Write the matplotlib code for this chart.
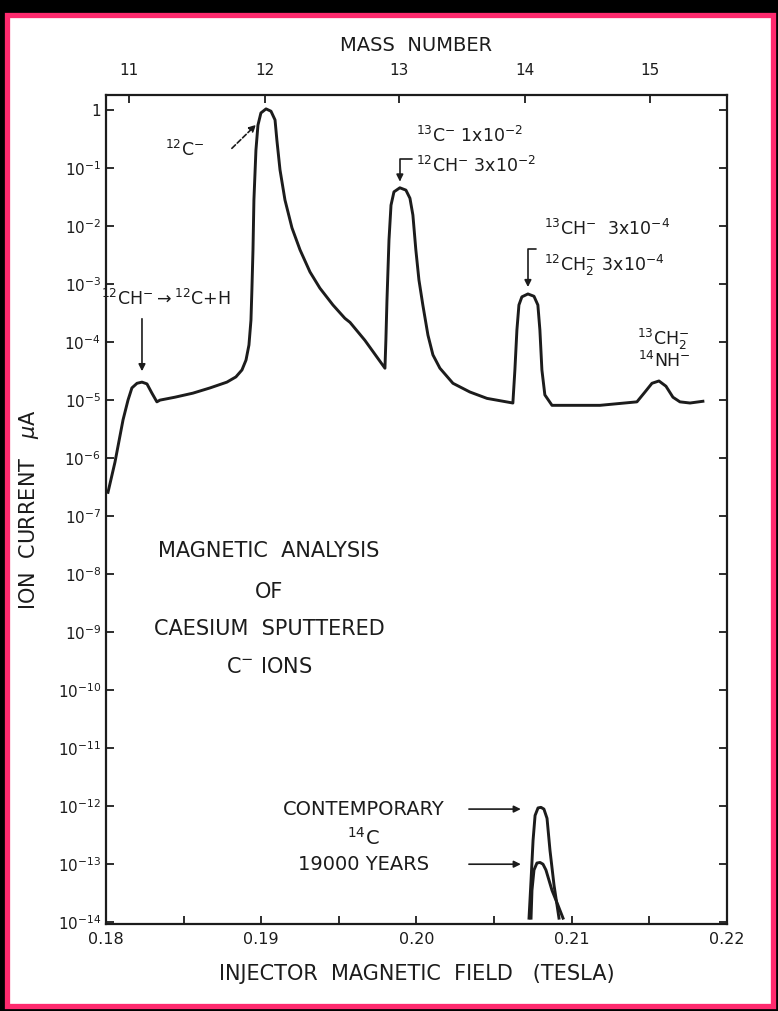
import numpy as np
import matplotlib
matplotlib.use("Agg")
import matplotlib.pyplot as plt
from matplotlib.patches import Rectangle

# main scan: injector field (T) vs log10 of ion current (uA)
field = [0.18013, 0.18058, 0.18110, 0.18142, 0.18167, 0.18200, 0.18232, 0.18264,
         0.18296, 0.18328, 0.18348, 0.18444, 0.18560, 0.18670, 0.18779, 0.18837,
         0.18876, 0.18902, 0.18921, 0.18934, 0.18940, 0.18947, 0.18953, 0.18966,
         0.18979, 0.18998, 0.19031, 0.19063, 0.19089, 0.19101, 0.19121, 0.19153,
         0.19198, 0.19250, 0.19314, 0.19378, 0.19462, 0.19539, 0.19572, 0.19668,
         0.19797, 0.19803, 0.19810, 0.19823, 0.19836, 0.19855, 0.19893, 0.19932,
         0.19958, 0.19977, 0.19996, 0.20016, 0.20041, 0.20074, 0.20106, 0.20151,
         0.20235, 0.20344, 0.20454, 0.20621, 0.20634, 0.20647, 0.20660, 0.20679,
         0.20718, 0.20757, 0.20782, 0.20795, 0.20808, 0.20827, 0.20873, 0.21182,
         0.21420, 0.21472, 0.21517, 0.21562, 0.21607, 0.21652, 0.21697, 0.21762,
         0.21845]
log_current = [-6.59, -6.07, -5.34, -5.00, -4.79, -4.71, -4.69, -4.72,
               -4.88, -5.03, -5.00, -4.95, -4.88, -4.79, -4.69, -4.60,
               -4.48, -4.31, -4.05, -3.62, -3.10, -2.41, -1.55, -0.69,
               -0.26, -0.05, 0.02, -0.02, -0.17, -0.52, -1.03, -1.55,
               -2.03, -2.41, -2.79, -3.07, -3.36, -3.59, -3.66, -3.97,
               -4.45, -3.97, -3.28, -2.24, -1.64, -1.41, -1.34, -1.38,
               -1.52, -1.81, -2.41, -2.93, -3.36, -3.88, -4.22, -4.45,
               -4.71, -4.86, -4.97, -5.05, -4.48, -3.79, -3.36, -3.22,
               -3.17, -3.21, -3.36, -3.79, -4.48, -4.91, -5.09, -5.09,
               -5.03, -4.86, -4.71, -4.67, -4.76, -4.95, -5.03, -5.05,
               -5.02]

# 14C peaks
c14_field = [0.20725, 0.20738, 0.20751, 0.20764, 0.20783, 0.20802, 0.20821,
             0.20841, 0.20860, 0.20886, 0.20918]
c14_modern = [-13.93, -13.28, -12.59, -12.16, -12.03, -12.02, -12.05,
              -12.21, -12.76, -13.36, -13.93]
c14_old_field = [0.20738, 0.20744, 0.20757, 0.20776, 0.20796, 0.20815, 0.20834,
                 0.20873, 0.20912, 0.20944]
c14_old = [-13.93, -13.45, -13.10, -12.98, -12.97, -13.00, -13.10,
           -13.45, -13.71, -13.93]

decades = list(range(0, -15, -1))
field_ticks = [0.18, 0.19, 0.20, 0.21, 0.22]
field_minor = [0.185, 0.195, 0.205, 0.215]
mass_pos = [0.18148, 0.19026, 0.19890, 0.20697, 0.21503]
mass_labels = ["11", "12", "13", "14", "15"]

ink = "#1c1c1c"
plt.rcParams["font.family"] = "DejaVu Sans"
plt.rcParams["mathtext.fontset"] = "dejavusans"

fig = plt.figure(figsize=(7.78, 10.11), dpi=100, facecolor="black")
fig.patches.append(Rectangle((0.009, 0.005), 0.985, 0.980, transform=fig.transFigure,
                             facecolor="white", edgecolor="#ff2a6e", lw=3.8, zorder=-5))

ax = fig.add_axes([0.1362, 0.0861, 0.7982, 0.8199])
ax.set_facecolor("none")
ax.set_yscale("log")
ax.set_xlim(0.18, 0.22)
ax.set_ylim(10 ** -14.03, 10 ** 0.259)

ax.plot(field, 10.0 ** np.array(log_current), color=ink, lw=2.1)
ax.plot(c14_field, 10.0 ** np.array(c14_modern), color=ink, lw=2.1)
ax.plot(c14_old_field, 10.0 ** np.array(c14_old), color=ink, lw=2.1)

ax.set_yticks([10.0 ** d for d in decades])
ax.set_yticklabels(["1"] + [r"$10^{%d}$" % d for d in decades[1:]])
ax.yaxis.set_minor_locator(matplotlib.ticker.NullLocator())
ax.set_xticks(field_ticks)
ax.set_xticklabels(["0.18", "0.19", "0.20", "0.21", "0.22"])
ax.set_xticks(field_minor, minor=True)
ax.tick_params(which="both", direction="in", length=6, width=1.3, color=ink,
               labelcolor=ink, labelsize=11, right=True)
ax.tick_params(axis="x", pad=6, labelsize=11.5)
for s in ax.spines.values():
    s.set_linewidth(1.6)
    s.set_color(ink)

ax.set_xlabel("INJECTOR  MAGNETIC  FIELD   (TESLA)", fontsize=15, color=ink, labelpad=12)
ax.set_ylabel(r"ION  CURRENT   $\mu$A", fontsize=15, color=ink, labelpad=8)
ax.yaxis.set_label_coords(-0.105, 0.50)

top = ax.twiny()
top.set_xlim(ax.get_xlim())
top.set_xticks(mass_pos)
top.set_xticklabels(mass_labels)
top.tick_params(direction="in", length=6, width=1.3, color=ink, labelcolor=ink,
                labelsize=11, pad=12)
top.set_xlabel("MASS  NUMBER", fontsize=14, color=ink, labelpad=9)
for s in top.spines.values():
    s.set_visible(False)

txt = dict(color=ink, fontsize=12.5)
arr = dict(arrowstyle="-|>", color=ink, lw=1.2, mutation_scale=10)

ax.text(0.18380, 10 ** -0.68, r"$^{12}$C$^{-}$", va="center", **txt)
ax.annotate("", xy=(0.18979, 10 ** -0.22), xytext=(0.18811, 10 ** -0.66),
            arrowprops=dict(arr, linestyle=(0, (3, 1.5)), shrinkA=0))
ax.text(0.1797, 10 ** -3.25, r"$^{12}$CH$^{-}$$\rightarrow$$^{12}$C+H", va="center", **txt)
ax.annotate("", xy=(0.18232, 10 ** -4.55), xytext=(0.18232, 10 ** -3.55), arrowprops=arr)

ax.text(0.2000, 10 ** -0.45, r"$^{13}$C$^{-}$ 1x10$^{-2}$", va="center", **txt)
ax.text(0.2000, 10 ** -0.97, r"$^{12}$CH$^{-}$ 3x10$^{-2}$", va="center", **txt)
ax.annotate("", xy=(0.19893, 10 ** -1.28), xytext=(0.1999, 10 ** -0.85),
            arrowprops=dict(arr, connectionstyle="angle,angleA=0,angleB=90,rad=0"))

ax.text(0.2082, 10 ** -2.05, r"$^{13}$CH$^{-}$  3x10$^{-4}$", va="center", **txt)
ax.text(0.2082, 10 ** -2.68, r"$^{12}$CH$_2^{-}$ 3x10$^{-4}$", va="center", **txt)
ax.annotate("", xy=(0.20718, 10 ** -3.1), xytext=(0.2079, 10 ** -2.4),
            arrowprops=dict(arr, connectionstyle="angle,angleA=0,angleB=90,rad=0"))

ax.text(0.2142, 10 ** -3.95, r"$^{13}$CH$_2^{-}$", va="center", **txt)
ax.text(0.2143, 10 ** -4.32, r"$^{14}$NH$^{-}$", va="center", **txt)

big = dict(color=ink, fontsize=15, ha="center", va="center")
ax.text(0.1905, 10 ** -7.6, "MAGNETIC  ANALYSIS", **big)
ax.text(0.1905, 10 ** -8.3, "OF", **big)
ax.text(0.1905, 10 ** -8.95, "CAESIUM  SPUTTERED", **big)
ax.text(0.1905, 10 ** -9.6, r"C$^{-}$ IONS", **big)

lab14 = dict(color=ink, fontsize=14, ha="center", va="center")
ax.text(0.1966, 10 ** -12.05, "CONTEMPORARY", **lab14)
ax.text(0.1966, 10 ** -12.55, r"$^{14}$C", **lab14)
ax.text(0.1966, 10 ** -13.0, "19000 YEARS", **lab14)
ax.annotate("", xy=(0.2069, 10 ** -12.05), xytext=(0.2032, 10 ** -12.05), arrowprops=arr)
ax.annotate("", xy=(0.2069, 10 ** -13.0), xytext=(0.2032, 10 ** -13.0), arrowprops=arr)

fig.savefig("out.png", dpi=100, facecolor=fig.get_facecolor())
